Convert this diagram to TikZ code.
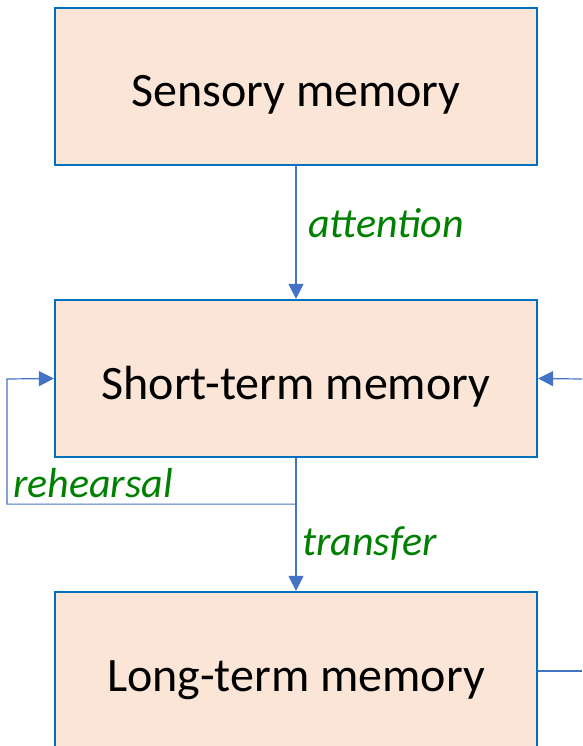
\documentclass[tikz,border=0pt]{standalone}
\usepackage{fontspec}
\setmainfont{Carlito}
\usetikzlibrary{arrows.meta}
\definecolor{boxfill}{HTML}{FBE5D6}
\definecolor{boxline}{HTML}{0070C0}
\definecolor{arrowline}{HTML}{4472C4}
\definecolor{lblgreen}{HTML}{008000}
\tikzset{
  membox/.style={draw=boxline, line width=2.2pt, fill=boxfill, minimum width=482pt, minimum height=157pt, inner sep=0pt, text height=41pt, text depth=0pt, font=\fontsize{48}{56}\selectfont},
  conn/.style={draw=arrowline, line width=1.2pt},
  tip/.style={-{Triangle[length=15pt,width=15pt]}},
  lbl/.style={text=lblgreen, font=\fontsize{42}{48}\selectfont\itshape, inner sep=0pt, anchor=base west}
}
\begin{document}
\begin{tikzpicture}[x=1pt,y=-1pt]
\useasboundingbox (0,0) rectangle (582,746);
\clip (0,0) rectangle (582,746);
\node[membox] (sm) at (296,86.5) {Sensory memory};
\node[membox] (stm) at (296,378.5) {Short-term memory};
\node[membox] (ltm) at (296,670.5) {Long-term memory};
\coordinate (rin) at (582,379);
\coordinate (rout) at (582,671);
\draw[conn,tip] (sm.south) -- (stm.north);
\draw[conn,tip] (stm.south) -- (ltm.north);
\draw[conn,tip] (stm.south) ++(0,46) -| (7,379) -- (stm.west);
\draw[conn,tip] (rin) -- (stm.east);
\draw[conn] (ltm.east |- rout) -- (rout);
\node[lbl] (att) at (308,237) {attention};
\node[lbl] (reh) at (13,497) {rehearsal};
\node[lbl] (trf) at (302,555) {transfer};
\end{tikzpicture}
\end{document}
